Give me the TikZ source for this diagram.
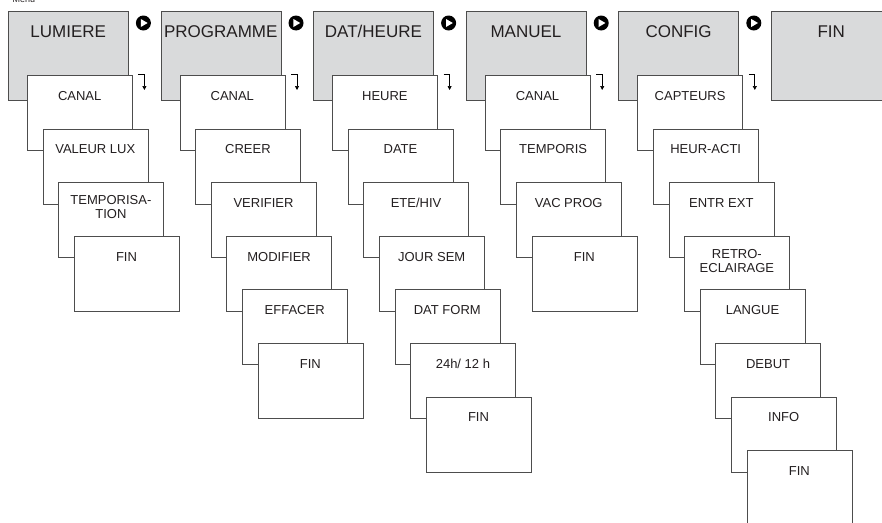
\documentclass[tikz,border=0pt]{standalone}
\usepackage{fontspec}
\setmainfont{Liberation Sans}
\usepackage{xcolor}
\usepackage{tikz}
\usetikzlibrary{arrows.meta}
\definecolor{frame}{HTML}{4D4D4D}
\definecolor{panel}{HTML}{D9DADB}
\definecolor{ink}{HTML}{231F20}
\newcommand{\twoline}[2]{\raisebox{3pt}{\begin{tabular}[t]{@{}c@{}}#1\\[-1pt]#2\end{tabular}}}

\begin{document}
\begin{tikzpicture}[x=1pt,y=1pt,
  mainbox/.style={draw=frame,fill=panel,anchor=north west,minimum width=120pt,minimum height=89pt,
  inner sep=0pt,text height=26pt,text depth=63pt,text=ink,font=\fontsize{17}{19}\selectfont},
  subbox/.style={draw=frame,fill=white,anchor=north west,minimum width=105pt,minimum height=75pt,
  inner sep=0pt,text height=25pt,text depth=50pt,text=ink,font=\fontsize{13}{15}\selectfont},
  go/.style={circle,fill=black,minimum size=15pt,inner sep=0pt},
  dn/.style={-{Triangle[length=4pt,width=4pt]},draw=black,line width=0.7pt}]
\useasboundingbox (0,0) rectangle (882,-522);
\clip (0,0) rectangle (882,-522);
\node[anchor=base west,text=ink,font=\fontsize{9}{10}\selectfont] (menu) at (9,-2) {Menu};
% top row
\foreach \n/\t [count=\c from 0] in {lum/LUMIERE,prog/PROGRAMME,dat/{DAT/HEURE},man/MANUEL,conf/CONFIG,fin/FIN}
  \node[mainbox] (\n) at (8+152.6*\c,-11) {\t};
% go marks between the top boxes
\foreach \n in {lum,prog,dat,man,conf}{
  \node[go] (\n go) at ([xshift=15pt,yshift=-12pt]\n.north east) {};
  \fill[white] ([shift={(-2.6pt,4pt)}]\n go.center) -- ([shift={(4.2pt,0pt)}]\n go.center)
    -- ([shift={(-2.6pt,-4pt)}]\n go.center) -- cycle;
}
% sub menus
\foreach \t [count=\k from 0] in {CANAL,VALEUR LUX,\twoline{TEMPORISA-}{TION},FIN}
  \node[subbox] (lum\k) at (27+15.6*\k,-75-53.6*\k) {\t};
\foreach \t [count=\k from 0] in {CANAL,CREER,VERIFIER,MODIFIER,EFFACER,FIN}
  \node[subbox] (prog\k) at (179.6+15.6*\k,-75-53.6*\k) {\t};
\foreach \t [count=\k from 0] in {HEURE,DATE,ETE/HIV,JOUR SEM,DAT FORM,24h/ 12 h,FIN}
  \node[subbox] (dat\k) at (332.2+15.6*\k,-75-53.6*\k) {\t};
\foreach \t [count=\k from 0] in {CANAL,TEMPORIS,VAC PROG,FIN}
  \node[subbox] (man\k) at (484.8+15.6*\k,-75-53.6*\k) {\t};
\foreach \t [count=\k from 0] in {CAPTEURS,HEUR-ACTI,ENTR EXT,\twoline{RETRO-}{ECLAIRAGE},LANGUE,DEBUT,INFO,FIN}
  \node[subbox] (conf\k) at (637.4+15.6*\k,-75-53.6*\k) {\t};
% down marks
\foreach \n in {lum,prog,dat,man,conf}{
  \coordinate (\n dn) at ([xshift=6pt,yshift=1pt]\n0.north east);
  \draw[dn] (\n dn) -- ++(6,0) -- ++(0,-16);
}
\end{tikzpicture}
\end{document}
